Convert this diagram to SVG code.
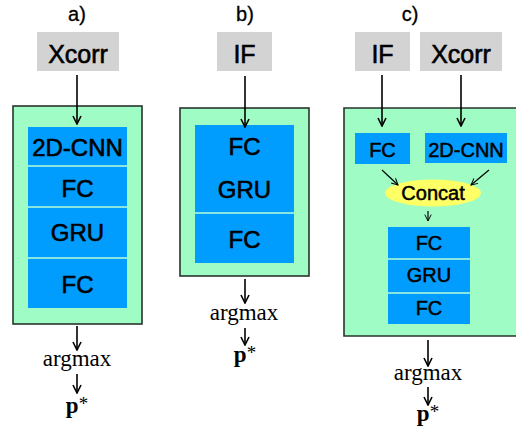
<svg xmlns="http://www.w3.org/2000/svg" width="516" height="434" viewBox="0 0 516 434">
<defs>
<marker id="ah" viewBox="0 0 10 10" refX="9" refY="5" markerWidth="10" markerHeight="10" markerUnits="userSpaceOnUse" orient="auto">
<path d="M1,1 L9,5 L1,9" fill="none" stroke="#000" stroke-width="1.6"/>
</marker>
<marker id="ahs" viewBox="0 0 10 10" refX="9" refY="5" markerWidth="8" markerHeight="8" markerUnits="userSpaceOnUse" orient="auto">
<path d="M1,1 L9,5 L1,9" fill="none" stroke="#000" stroke-width="1.2"/>
</marker>
</defs>
<style>
.lbl{font-family:"Liberation Sans",Arial,sans-serif;font-size:20px;fill:#000;text-anchor:middle;stroke:#000;stroke-width:0.3}
.in{fill:#d3d3d3}
.inT{font-family:"Liberation Sans",Arial,sans-serif;font-size:25px;fill:#000;text-anchor:middle;stroke:#000;stroke-width:0.6}
.grn{fill:#9ffcc4;stroke:#2a332d;stroke-width:1.6}
.blu{fill:#009dff}
.sep{stroke:#b5ffd6;stroke-width:1.5}
.bT{font-family:"Liberation Sans",Arial,sans-serif;font-size:24px;fill:#000;text-anchor:middle;stroke:#000;stroke-width:0.6}
.sT{font-family:"Liberation Sans",Arial,sans-serif;font-size:20px;fill:#000;text-anchor:middle;stroke:#000;stroke-width:0.5}
.tm{font-family:"Liberation Serif","Times New Roman",serif;font-size:23px;fill:#000;text-anchor:middle}
.ar{stroke:#000;stroke-width:1.6;fill:none;marker-end:url(#ah)}
.ars{stroke:#000;stroke-width:1.2;fill:none;marker-end:url(#ahs)}
</style>

<g id="panel-a">
<text class="lbl" x="77" y="21">a)</text>
<g id="a-xcorr"><rect class="in" x="37" y="32" width="82" height="39"/><text class="inT" x="78" y="63">Xcorr</text></g>
<g id="a-model">
<rect class="grn" x="13" y="106" width="129" height="218"/>
<rect class="blu" x="28" y="127" width="99" height="181"/>
<line class="sep" x1="28" y1="166" x2="127" y2="166"/>
<line class="sep" x1="28" y1="207" x2="127" y2="207"/>
<line class="sep" x1="28" y1="258" x2="127" y2="258"/>
<text class="bT" x="77.5" y="156">2D-CNN</text>
<text class="bT" x="77.5" y="197">FC</text>
<text class="bT" x="77.5" y="241">GRU</text>
<text class="bT" x="77.5" y="293">FC</text>
</g>
<g id="a-argmax"><text class="tm" x="77" y="366">argmax</text></g>
<g id="a-p"><text class="tm" x="77" y="413"><tspan font-weight="bold">p</tspan><tspan font-size="19" dy="-3">*</tspan></text></g>
</g>

<g id="panel-b">
<text class="lbl" x="245" y="21">b)</text>
<g id="b-if"><rect class="in" x="217" y="32" width="55" height="39"/><text class="inT" x="244.5" y="63">IF</text></g>
<g id="b-model">
<rect class="grn" x="180" y="108" width="129" height="168"/>
<rect class="blu" x="195" y="125" width="99" height="138"/>
<line class="sep" x1="195" y1="213" x2="294" y2="213"/>
<text class="bT" x="244.5" y="155">FC</text>
<text class="bT" x="244.5" y="198">GRU</text>
<text class="bT" x="244.5" y="248">FC</text>
</g>
<g id="b-argmax"><text class="tm" x="244" y="320">argmax</text></g>
<g id="b-p"><text class="tm" x="245" y="362"><tspan font-weight="bold">p</tspan><tspan font-size="19" dy="-3">*</tspan></text></g>
</g>

<g id="panel-c">
<text class="lbl" x="410" y="21">c)</text>
<g id="c-if"><rect class="in" x="355" y="32" width="55" height="39"/><text class="inT" x="382.5" y="63">IF</text></g>
<g id="c-xcorr"><rect class="in" x="420" y="32" width="82" height="39"/><text class="inT" x="461" y="63">Xcorr</text></g>
<g id="c-model">
<path d="M517,108 H344 V336 H517" class="grn"/>
</g>
<g id="c-fc"><rect class="blu" x="355" y="133" width="55" height="31"/><text class="sT" x="382.5" y="157">FC</text></g>
<g id="c-cnn"><rect class="blu" x="425" y="133" width="82" height="30"/><text class="sT" x="466" y="157">2D-CNN</text></g>
<g id="c-concat"><ellipse cx="433" cy="193" rx="48" ry="13.5" fill="#ffff66"/><text class="sT" x="433" y="200" font-size="18">Concat</text></g>
<g id="c-stack">
<rect class="blu" x="388" y="227" width="82" height="97"/>
<line class="sep" x1="388" y1="259" x2="470" y2="259"/>
<line class="sep" x1="388" y1="293" x2="470" y2="293"/>
<text class="sT" x="429" y="250">FC</text>
<text class="sT" x="429" y="282">GRU</text>
<text class="sT" x="429" y="315">FC</text>
</g>
<g id="c-argmax"><text class="tm" x="428" y="380">argmax</text></g>
<g id="c-p"><text class="tm" x="428" y="421"><tspan font-weight="bold">p</tspan><tspan font-size="19" dy="-3">*</tspan></text></g>
</g>

<g id="connectors">
<line class="ar" x1="77" y1="75" x2="77" y2="124"/>
<line class="ar" x1="77" y1="326" x2="77" y2="350"/>
<line class="ar" x1="77" y1="374" x2="77" y2="393"/>
<line class="ar" x1="245" y1="76" x2="245" y2="127"/>
<line class="ar" x1="245" y1="279" x2="245" y2="303"/>
<line class="ar" x1="245" y1="328" x2="245" y2="345"/>
<line class="ar" x1="382" y1="75" x2="382" y2="126"/>
<line class="ar" x1="461" y1="75" x2="461" y2="126"/>
<line class="ars" x1="382" y1="170" x2="398" y2="185"/>
<line class="ars" x1="489" y1="170" x2="471" y2="185"/>
<line class="ars" x1="428" y1="211" x2="428" y2="221"/>
<line class="ar" x1="428" y1="340" x2="428" y2="366"/>
<line class="ar" x1="428" y1="387" x2="428" y2="405"/>
</g>
</svg>
